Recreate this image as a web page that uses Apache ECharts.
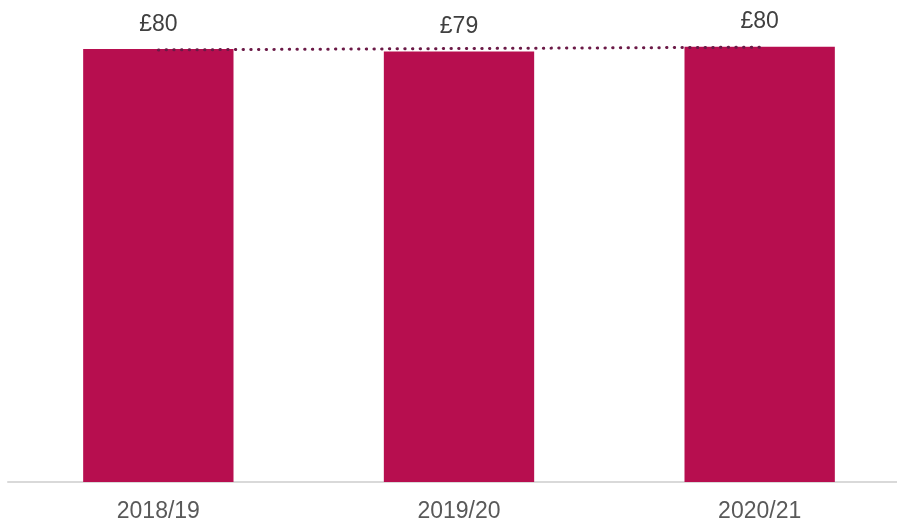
<!DOCTYPE html>
<html>
<head>
<meta charset="utf-8">
<script src="https://cdn.jsdelivr.net/npm/echarts@6/dist/echarts.min.js"></script>
<style>
  html, body { margin: 0; padding: 0; background: #ffffff; }
  #chart { width: 897px; height: 523px; }
</style>
</head>
<body>
<div id="chart"></div>
<script>
// Financial years shown on the category axis
const years = ['2018/19', '2019/20', '2020/21'];
// Average amount per year (£)
const amounts = [79.7, 79.25, 80.15];
// Linear trend across the three years (£)
const trend = [79.55, 79.8, 80.05];

const chart = echarts.init(document.getElementById('chart'), null, { renderer: 'canvas' });

chart.setOption({
  animation: false,
  backgroundColor: '#ffffff',
  textStyle: { fontFamily: 'Liberation Sans, Arial, sans-serif' },
  // The plot area runs a little past the right edge, so the last band is cut off
  grid: { left: 8, top: 4, width: 902, height: 478, containLabel: false, outerBoundsMode: 'none' },
  xAxis: {
    type: 'category',
    data: years,
    axisLine: { show: true, lineStyle: { color: '#d9d9d9', width: 2 } },
    axisTick: { show: false },
    axisLabel: {
      color: '#595959',
      fontSize: 23,
      margin: 18,
      fontFamily: 'Liberation Sans, Arial, sans-serif'
    }
  },
  yAxis: {
    type: 'value',
    min: 0,
    max: 88,
    show: false,
    splitLine: { show: false }
  },
  series: [
    {
      type: 'bar',
      data: amounts,
      barWidth: '50%',
      itemStyle: { color: '#b70e4f' },
      label: {
        show: true,
        position: 'top',
        distance: 13,
        color: '#404040',
        fontSize: 23,
        fontFamily: 'Liberation Sans, Arial, sans-serif',
        formatter: p => '£' + Math.round(p.value)
      },
      z: 2
    },
    {
      type: 'line',
      data: trend,
      symbol: 'none',
      silent: true,
      lineStyle: {
        color: '#6b1a47',
        width: 3,
        type: [0.4, 7.3],
        cap: 'round'
      },
      z: 3
    }
  ]
});
</script>
</body>
</html>
